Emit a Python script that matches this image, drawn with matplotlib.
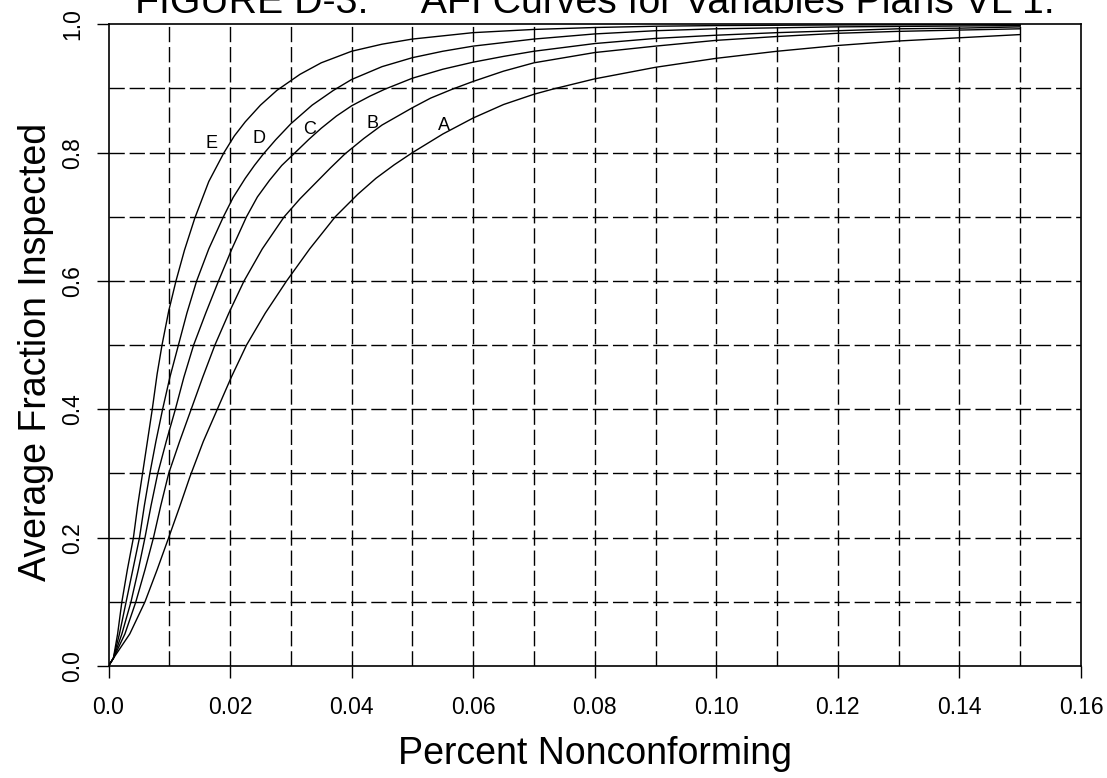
import numpy as np
import matplotlib.pyplot as plt

plt.rcParams["font.family"] = ["Liberation Sans", "DejaVu Sans"]

# fraction nonconforming (x) and average fraction inspected (y)
x_a = [0.0, 0.0008, 0.0035, 0.0060, 0.0080, 0.0099, 0.0117, 0.0134, 0.0156, 0.0179,
       0.0202, 0.0227, 0.0258, 0.0293, 0.0331, 0.0373, 0.0410, 0.0440, 0.0470, 0.0500,
       0.0550, 0.0600, 0.0650, 0.0700, 0.0731, 0.0800, 0.0900, 0.1000, 0.1100, 0.1200,
       0.1300, 0.1400, 0.1500]
y_a = [0.0, 0.012, 0.050, 0.10, 0.150, 0.20, 0.248, 0.295, 0.350, 0.40,
       0.450, 0.50, 0.550, 0.60, 0.650, 0.70, 0.735, 0.760, 0.781, 0.800,
       0.829, 0.854, 0.875, 0.891, 0.899, 0.915, 0.933, 0.947, 0.958, 0.967,
       0.974, 0.979, 0.984]

x_b = [0.0, 0.0008, 0.0027, 0.0045, 0.0060, 0.0074, 0.0086, 0.0099, 0.0117, 0.0136,
       0.0155, 0.0175, 0.0198, 0.0223, 0.0253, 0.0289, 0.0315, 0.0340, 0.0365, 0.0389,
       0.0420, 0.0450, 0.0500, 0.0530, 0.0566, 0.0600, 0.0650, 0.0700, 0.0800, 0.0900,
       0.1000, 0.1100, 0.1200, 0.1300, 0.1400, 0.1500]
y_b = [0.0, 0.012, 0.050, 0.10, 0.150, 0.20, 0.250, 0.30, 0.350, 0.40,
       0.450, 0.50, 0.550, 0.60, 0.650, 0.70, 0.728, 0.752, 0.776, 0.798,
       0.822, 0.843, 0.870, 0.885, 0.899, 0.911, 0.927, 0.940, 0.956, 0.966,
       0.975, 0.981, 0.986, 0.989, 0.991, 0.993]

x_c = [0.0, 0.0008, 0.0022, 0.0037, 0.0049, 0.0060, 0.0070, 0.0081, 0.0095, 0.0110,
       0.0124, 0.0140, 0.0160, 0.0181, 0.0203, 0.0227, 0.0245, 0.0265, 0.0285, 0.0307,
       0.0330, 0.0350, 0.0375, 0.0400, 0.0430, 0.0455, 0.0500, 0.0550, 0.0600, 0.0650,
       0.0700, 0.0800, 0.0900, 0.1000, 0.1100, 0.1200, 0.1300, 0.1400, 0.1500]
y_c = [0.0, 0.012, 0.050, 0.10, 0.150, 0.20, 0.250, 0.30, 0.350, 0.40,
       0.450, 0.50, 0.550, 0.60, 0.650, 0.70, 0.731, 0.757, 0.780, 0.800,
       0.821, 0.838, 0.857, 0.873, 0.888, 0.899, 0.916, 0.930, 0.941, 0.950,
       0.958, 0.970, 0.978, 0.983, 0.987, 0.990, 0.993, 0.994, 0.996]

x_d = [0.0, 0.0008, 0.0018, 0.0029, 0.0040, 0.0051, 0.0059, 0.0068, 0.0078, 0.0089,
       0.0101, 0.0115, 0.0129, 0.0145, 0.0165, 0.0189, 0.0205, 0.0225, 0.0240, 0.0254,
       0.0275, 0.0300, 0.0335, 0.0370, 0.0400, 0.0450, 0.0500, 0.0550, 0.0600, 0.0700,
       0.0800, 0.0900, 0.1000, 0.1200, 0.1500]
y_d = [0.0, 0.012, 0.050, 0.10, 0.150, 0.20, 0.250, 0.30, 0.350, 0.40,
       0.450, 0.50, 0.550, 0.60, 0.650, 0.70, 0.730, 0.760, 0.780, 0.797,
       0.820, 0.845, 0.874, 0.897, 0.914, 0.934, 0.948, 0.958, 0.966, 0.977,
       0.985, 0.990, 0.993, 0.996, 0.998]

x_e = [0.0, 0.0008, 0.0015, 0.0022, 0.0031, 0.0041, 0.0048, 0.0056, 0.0064, 0.0072,
       0.0080, 0.0088, 0.0099, 0.0111, 0.0125, 0.0142, 0.0165, 0.0190, 0.0207, 0.0225,
       0.0250, 0.0277, 0.0315, 0.0350, 0.0400, 0.0450, 0.0500, 0.0600, 0.0700, 0.0800,
       0.0900, 0.1000, 0.1200, 0.1500]
y_e = [0.0, 0.012, 0.050, 0.10, 0.150, 0.20, 0.250, 0.30, 0.350, 0.40,
       0.455, 0.50, 0.553, 0.60, 0.648, 0.698, 0.755, 0.800, 0.826, 0.848,
       0.874, 0.897, 0.922, 0.940, 0.958, 0.969, 0.977, 0.987, 0.992, 0.995,
       0.997, 0.998, 0.999, 0.9995]

curve_names = ["A", "B", "C", "D", "E"]
label_x = [0.0552, 0.0435, 0.0330, 0.02476, 0.01689]
label_y = [0.8425, 0.8457, 0.8355, 0.8222, 0.8145]

xticks = [0.0, 0.02, 0.04, 0.06, 0.08, 0.10, 0.12, 0.14, 0.16]
xtick_labels = ["0.0", "0.02", "0.04", "0.06", "0.08", "0.10", "0.12", "0.14", "0.16"]
yticks = [0.0, 0.2, 0.4, 0.6, 0.8, 1.0]
ytick_labels = ["0.0", "0.2", "0.4", "0.6", "0.8", "1.0"]

fig = plt.figure(figsize=(11.07, 7.78), dpi=100)
ax = fig.add_axes([108.5 / 1107, 1 - 666 / 778, (1081 - 108.5) / 1107, (666 - 24.3) / 778])

dash = (0, (11, 3.5))
for gx in np.arange(1, 16) / 100:
    ax.axvline(gx, color="black", lw=1.0, ls=dash, zorder=1)
for gy in np.arange(1, 10) / 10:
    ax.axhline(gy, color="black", lw=1.0, ls=dash, zorder=1)

for xs, ys in [(x_a, y_a), (x_b, y_b), (x_c, y_c), (x_d, y_d), (x_e, y_e)]:
    ax.plot(xs, ys, color="black", lw=1.0, zorder=3)

for name, lx, ly in zip(curve_names, label_x, label_y):
    ax.text(lx, ly, name, fontsize=13, ha="center", va="center", zorder=4)

ax.set_xlim(0, 0.16)
ax.set_ylim(0, 1.0)
ax.set_xticks(xticks)
ax.set_xticklabels(xtick_labels)
ax.set_yticks(yticks)
ax.set_yticklabels(ytick_labels, rotation=90, va="center")
ax.tick_params(direction="out", length=8.6, width=1.0, labelsize=16.5, color="black")
ax.tick_params(axis="x", pad=13)
ax.tick_params(axis="y", pad=9)
for s in ax.spines.values():
    s.set_linewidth(1.2)

fig.text(594.5 / 1107, 1 - 12.7 / 778,
         "FIGURE D-3.     AFI Curves for Variables Plans VL 1.",
         fontsize=28.3, ha="center", va="baseline")
fig.text(594.5 / 1107, 1 - 764 / 778, "Percent Nonconforming",
         fontsize=27, ha="center", va="baseline")
fig.text(46 / 1107, 1 - 352 / 778, "Average Fraction Inspected",
         fontsize=27, ha="center", va="baseline", rotation=90, rotation_mode="anchor")

fig.savefig("out.png", dpi=100)
